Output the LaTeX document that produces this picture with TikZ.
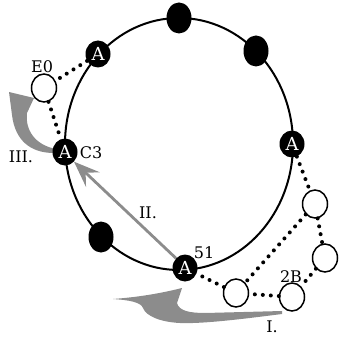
\documentclass[tikz,border=0pt]{standalone}
\usepackage{fontspec}
\setmainfont{DejaVu Serif}
\usetikzlibrary{arrows.meta,shapes.geometric}
\definecolor{arrowgray}{gray}{0.55}
\tikzset{
  ring/.style={line width=2pt},
  anode/.style={ellipse, fill=black, text=white, minimum width=25pt,
    minimum height=27pt, inner sep=0pt, font=\fontsize{18}{18}\selectfont},
  blob/.style={ellipse, fill=black, minimum width=25pt, minimum height=31pt, inner sep=0pt},
  ocirc/.style={ellipse, draw, line width=1.5pt, fill=white, minimum width=25pt,
    minimum height=28pt, inner sep=0pt},
  chain/.style={line width=4pt, line cap=round, dash pattern=on 0pt off 8pt},
  lbl/.style={font=\fontsize{16}{16}\selectfont, inner sep=0pt},
  grayfill/.style={fill=arrowgray, draw=none},
}
\begin{document}
\begin{tikzpicture}[x=1pt, y=-1pt]
\useasboundingbox (0,0) rectangle (338,339);

% the ring
\draw[ring] (179,144) ellipse [x radius=114, y radius=126];

% gray arrow III (curved, from C3 up towards E0)
\path[grayfill] (9,92) -- (34,98) -- (27,113)
  .. controls (25,130) and (35,145) .. (56,149) -- (54,153)
  .. controls (30,153) and (15,140) .. (12,115) -- cycle;

% gray arrow I (sweeping in from the right towards the 51 node)
\path[grayfill] (113,299) .. controls (140,297) and (162,293) .. (182,288)
  -- (177,303) .. controls (179,311) and (190,313) .. (205,313)
  -- (282,311) -- (282,314)
  .. controls (250,318) and (205,324) .. (180,323)
  .. controls (160,322) and (146,316) .. (143,308)
  .. controls (141,302) and (128,300) .. (113,299) -- cycle;

% nodes on the ring
\node[blob] (b1) at (179,18) {};
\node[blob] (b2) at (256,51) {};
\node[blob] (b3) at (101,237) {};
\node[anode] (a1) at (98,54) {A};
\node[anode] (a2) at (65,152) {A};
\node[anode] (a3) at (292,144) {A};
\node[anode] (a4) at (185,268) {A};

% open nodes
\node[ocirc] (e0) at (44,88) {};
\node[ocirc] (o1) at (315,204) {};
\node[ocirc] (o2) at (325,258) {};
\node[ocirc] (o3) at (292,297) {};
\node[ocirc] (o4) at (236,293) {};

% dotted chains
\draw[chain] (a1) -- (e0);
\draw[chain] (e0) -- (a2);
\draw[chain] (a3) -- (o1);
\draw[chain] (o1) -- (o2);
\draw[chain] (o2) -- (o3);
\draw[chain] (o3) -- (o4);
\draw[chain] (o4) -- (a4);
\draw[chain] (o1) -- (o4);

% gray arrow II
\draw[draw=arrowgray, line width=2.8pt,
  -{Stealth[length=26pt, width=20pt, inset=10pt]}]
  (a4.north west) -- (a2.south east);

% labels
\node[lbl] (le0) at (42,67) {E0};
\node[lbl] (lc3) at (91,153) {C3};
\node[lbl] (l3) at (21,157) {III.};
\node[lbl] (l2) at (148,213) {II.};
\node[lbl] (l51) at (204,253) {51};
\node[lbl] (l2b) at (291,277) {2B};
\node[lbl] (l1) at (272,327) {I.};
\end{tikzpicture}
\end{document}
